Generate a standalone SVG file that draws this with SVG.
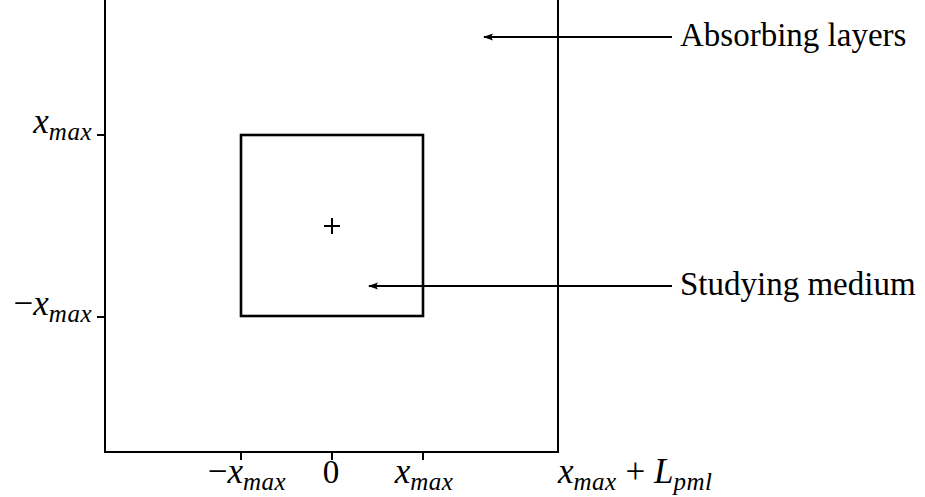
<svg xmlns="http://www.w3.org/2000/svg" width="925" height="497" viewBox="0 0 925 497">
<style>
.ln{stroke:#000;stroke-width:2;fill:none}
.sq{stroke:#000;stroke-width:2.6;fill:none}
.tk{stroke:#000;stroke-width:2}
.t{font-family:"Liberation Serif","Times New Roman",serif;font-size:33px;fill:#000}
.m{font-family:"Liberation Serif","Times New Roman",serif;font-size:35px;font-style:italic;fill:#000}
.s{font-size:25px;letter-spacing:0.5px}
</style>
<defs>
<marker id="ah" markerWidth="10" markerHeight="8" refX="9" refY="4" orient="auto" markerUnits="userSpaceOnUse">
<path d="M10,4 L0,0.5 L2,4 L0,7.5 Z" fill="#000"/>
</marker>
</defs>
<rect width="925" height="497" fill="#fff"/>
<g id="domain">
<path class="ln" d="M105,0 V452 H558 V0"/>
<line class="tk" x1="97" y1="135" x2="105" y2="135"/>
<line class="tk" x1="97" y1="317" x2="105" y2="317"/>
<line class="tk" x1="241" y1="452" x2="241" y2="460"/>
<line class="tk" x1="332" y1="452" x2="332" y2="460"/>
<line class="tk" x1="423" y1="452" x2="423" y2="460"/>
</g>
<g id="medium">
<rect class="sq" x="241" y="135" width="182" height="181"/>
<path d="M324,226 H340 M332,218 V234" stroke="#000" stroke-width="2" fill="none"/>
</g>
<g id="connectors">
<line class="ln" x1="672" y1="37" x2="484" y2="37" marker-end="url(#ah)"/>
<line class="ln" x1="672" y1="286" x2="369" y2="286" marker-end="url(#ah)"/>
</g>
<g id="labels">
<text class="t" x="680" y="46">Absorbing layers</text>
<text class="t" x="680" y="295">Studying medium</text>
<text class="m" x="92" y="133" text-anchor="end">x<tspan class="s" dy="7">max</tspan></text>
<text class="m" x="92" y="315" text-anchor="end"><tspan font-style="normal">−</tspan>x<tspan class="s" dy="7">max</tspan></text>
<text class="m" x="247" y="483" text-anchor="middle"><tspan font-style="normal">−</tspan>x<tspan class="s" dy="7">max</tspan></text>
<text class="t" x="331" y="483" text-anchor="middle">0</text>
<text class="m" x="424" y="483" text-anchor="middle">x<tspan class="s" dy="7">max</tspan></text>
<text class="m" x="558" y="483">x<tspan class="s" dy="7">max</tspan><tspan dy="-7" font-style="normal"> + </tspan>L<tspan class="s" dy="7">pml</tspan></text>
</g>
</svg>
